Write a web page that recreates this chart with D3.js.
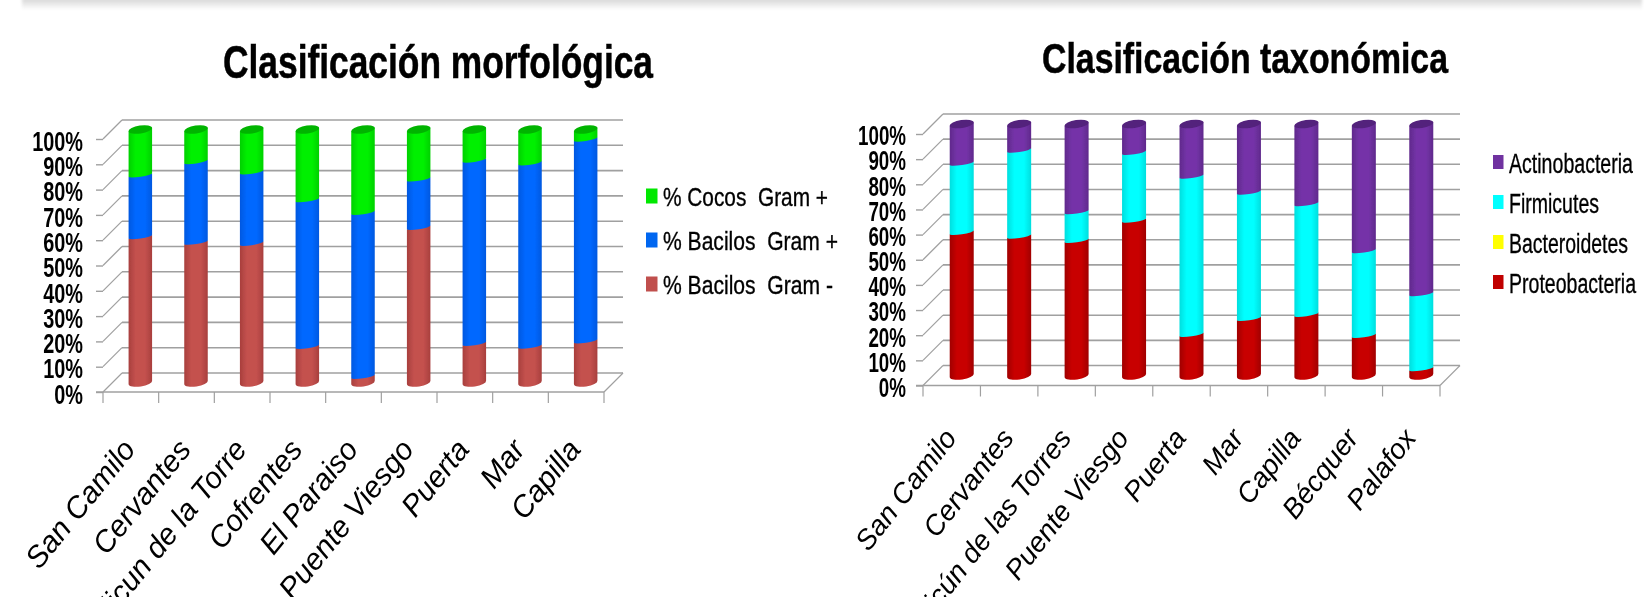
<!DOCTYPE html>
<html>
<head>
<meta charset="utf-8">
<script src="https://cdn.jsdelivr.net/npm/d3@7"></script>
<style>
  html, body { margin: 0; padding: 0; background: #fff; overflow: hidden; }
  svg { display: block; }
  text { font-family: "Liberation Sans", Arial, sans-serif; fill: #000; white-space: pre; }
</style>
</head>
<body>
<div id="chart"></div>
<script>
// Values, in percent, bottom segment first
const yTicks = [0, 10, 20, 30, 40, 50, 60, 70, 80, 90, 100];

const morphCategories = ["San Camilo", "Cervantes", "Alicun de la Torre", "Cofrentes", "El Paraiso", "Puente Viesgo", "Puerta", "Mar", "Capilla"];
const bacilosNeg = [57.6, 55.4, 55, 14.2, 2.4, 61.3, 15.4, 14.3, 16.4];
const bacilosPos = [24.4, 31.9, 28.2, 58, 64.8, 19.1, 72.5, 72.5, 79.8];
const cocosPos = [18, 12.7, 16.8, 27.8, 32.8, 19.6, 12.1, 13.2, 3.8];

const taxCategories = ["San Camilo", "Cervantes", "Alicún de las Torres", "Puente Viesgo", "Puerta", "Mar", "Capilla", "Bécquer", "Palafox"];
const proteobacteria = [56.9, 55.4, 53.7, 61.7, 16.3, 22.7, 24.3, 15.9, 2.7];
const bacteroidetes = [0, 0, 0, 0, 0, 0, 0, 0, 0];
const firmicutes = [27.5, 34.2, 11.4, 27, 62.9, 50.2, 44, 33.7, 29.8];
const actinobacteria = [15.6, 10.4, 34.9, 11.3, 20.8, 27.1, 31.7, 50.4, 67.5];

const svg = d3.select("#chart").append("svg")
    .attr("width", 1652)
    .attr("height", 597);

const defs = svg.append("defs");

// the reference is a soft, scaled up bitmap
defs.append("filter").attr("id", "soft")
    .append("feGaussianBlur").attr("stdDeviation", 0.5);
defs.append("filter").attr("id", "shadowBlur")
    .append("feGaussianBlur").attr("stdDeviation", 1.5);

const shadowGrad = defs.append("linearGradient").attr("id", "topShadow")
    .attr("x1", 0).attr("x2", 0).attr("y1", 0).attr("y2", 1);
shadowGrad.append("stop").attr("offset", 0).attr("stop-color", "#d4d4d4");
shadowGrad.append("stop").attr("offset", 1).attr("stop-color", "#ffffff");

svg.append("rect")
    .attr("x", 22).attr("y", -2).attr("width", 1620).attr("height", 12)
    .attr("fill", "url(#topShadow)")
    .attr("filter", "url(#shadowBlur)");

const root = svg.append("g").attr("filter", "url(#soft)");

// narrow a text to the condensed look of the original
function squeeze(sel, k) {
    sel.each(function () {
        const t = d3.select(this);
        t.attr("textLength", this.getComputedTextLength() * k)
            .attr("lengthAdjust", "spacingAndGlyphs");
    });
}

function cylinderGradient(id, edge, mid) {
    const g = defs.append("linearGradient").attr("id", id);
    g.append("stop").attr("offset", 0).attr("stop-color", edge);
    g.append("stop").attr("offset", 0.3).attr("stop-color", mid);
    g.append("stop").attr("offset", 0.7).attr("stop-color", mid);
    g.append("stop").attr("offset", 1).attr("stop-color", edge);
}

function drawChart(o) {
    const g = root.append("g");
    const x = d3.scaleBand().domain(o.categories).range([o.x0, o.x1]);
    const y = d3.scaleLinear().domain([0, 100]).range([o.y0, o.y100]);
    const d = o.depth;
    const gridColor = "#a0a0a0";

    // back wall grid
    g.append("g").selectAll("line").data(yTicks).join("line")
        .attr("x1", o.x0 + d).attr("x2", o.x1 + d)
        .attr("y1", v => y(v) - d).attr("y2", v => y(v) - d)
        .attr("stroke", gridColor).attr("stroke-width", 1.6);

    // side wall
    g.append("g").selectAll("line").data(yTicks).join("line")
        .attr("x1", o.x0).attr("x2", o.x0 + d)
        .attr("y1", v => y(v)).attr("y2", v => y(v) - d)
        .attr("stroke", gridColor).attr("stroke-width", 1.2);

    // floor
    g.append("line")
        .attr("x1", o.x1).attr("x2", o.x1 + d)
        .attr("y1", y(0)).attr("y2", y(0) - d)
        .attr("stroke", gridColor).attr("stroke-width", 1.2);
    g.append("line")
        .attr("x1", o.x0 - 7).attr("x2", o.x1)
        .attr("y1", y(0)).attr("y2", y(0))
        .attr("stroke", gridColor).attr("stroke-width", 1.6);

    // category ticks sit between the bands
    const edges = o.categories.map(c => x(c)).concat([o.x1]);
    g.append("g").selectAll("line").data(edges).join("line")
        .attr("x1", v => v).attr("x2", v => v)
        .attr("y1", y(0)).attr("y2", y(0) + 11)
        .attr("stroke", gridColor).attr("stroke-width", 1.2);

    // y axis
    const yAxis = g.append("g")
        .attr("transform", `translate(${o.x0},0)`)
        .call(d3.axisLeft(y).tickValues(yTicks).tickSize(7).tickPadding(o.tickPad).tickFormat(v => v + "%"));
    yAxis.select(".domain").remove();
    yAxis.selectAll("line").attr("stroke", gridColor).attr("stroke-width", 1.4);
    yAxis.selectAll("text")
        .attr("dy", "0.4em")
        .style("font-size", o.tickFont + "px")
        .style("font-weight", "bold")
        .call(squeeze, o.tickSqueeze);

    // x axis labels
    const xAxis = g.append("g")
        .attr("transform", `translate(0,${o.y0})`)
        .call(d3.axisBottom(x).tickSize(0).tickFormat(c => c));
    xAxis.select(".domain").remove();
    xAxis.selectAll("text")
        .attr("text-anchor", "end")
        .attr("y", 0).attr("dy", 0)
        .attr("transform", `translate(${o.labelDx},${o.labelDy}) rotate(${o.labelAngle})`)
        .style("font-size", o.labelFont + "px")
        .style("font-style", "italic");

    // stacked cylinders
    const w = o.barWidth, tilt = o.tilt, ry = o.ry;
    const bar = g.append("g");
    const rows = o.categories.map((c, i) => {
        const row = { category: c };
        o.series.forEach(s => { row[s.name] = s.values[i]; });
        return row;
    });
    const stack = d3.stack().keys(o.series.map(s => s.name))(rows);

    function endArc(cx, py) {
        const rx = Math.sqrt(w * w / 4 + tilt * tilt);
        const rot = -Math.atan2(2 * tilt, w) * 180 / Math.PI;
        return [rx, rot, cx - w / 2, py + tilt, cx + w / 2, py - tilt];
    }

    stack.forEach((layer, si) => {
        const s = o.series[si];
        bar.append("g").selectAll("path").data(layer).join("path")
            .attr("fill", `url(#${s.grad})`)
            .attr("d", p => {
                if (p[1] - p[0] <= 0) return null;
                const cx = x(p.data.category) + x.bandwidth() / 2 + d / 2;
                const [rx, rot, lx, ly, rxp, ryp] = endArc(cx, y(p[0]) - d / 2);
                const top = y(p[1]) - d / 2;
                const bulge = p[0] === 0 ? ry : 1.8;
                return `M${lx},${ly}A${rx},${bulge} ${rot} 0 0 ${rxp},${ryp}L${rxp},${top - tilt}L${lx},${top + tilt}Z`;
            });
    });

    // cap of the last segment
    const last = stack[stack.length - 1];
    bar.append("g").selectAll("path").data(last).join("path")
        .attr("fill", o.capColor)
        .attr("d", p => {
            const cx = x(p.data.category) + x.bandwidth() / 2 + d / 2;
            const [rx, rot, lx, ly, rxp, ryp] = endArc(cx, y(p[1]) - d / 2);
            return `M${lx},${ly}A${rx},${ry} ${rot} 0 0 ${rxp},${ryp}A${rx},${ry} ${rot} 0 0 ${lx},${ly}Z`;
        });

    // title
    g.append("text")
        .attr("x", o.titleX).attr("y", o.titleY)
        .attr("textLength", o.titleWidth)
        .attr("lengthAdjust", "spacingAndGlyphs")
        .style("font-size", o.titleFont + "px")
        .style("font-weight", "bold")
        .style("stroke", "#000").style("stroke-width", 0.5)
        .text(o.title);

    // legend
    const leg = g.append("g").selectAll("g").data(o.legend).join("g")
        .attr("transform", l => `translate(${o.legendX},${l.y})`);
    leg.append("rect")
        .attr("x", 0).attr("y", -o.swatch / 2 - 1)
        .attr("width", o.swatchW).attr("height", o.swatch)
        .attr("fill", l => l.color);
    leg.append("text")
        .attr("x", o.legendTextX).attr("dy", "0.36em")
        .attr("textLength", l => l.width)
        .attr("lengthAdjust", "spacingAndGlyphs")
        .style("font-size", o.legendFont + "px")
        .style("stroke", "#000").style("stroke-width", 0.35)
        .text(l => l.label);
}

cylinderGradient("gBacNeg", "#a83f3d", "#c4514e");
cylinderGradient("gBacPos", "#0058e0", "#0068ff");
cylinderGradient("gCocos", "#00d000", "#00f000");
cylinderGradient("gProteo", "#a00000", "#c80000");
cylinderGradient("gBactero", "#dddd00", "#ffff00");
cylinderGradient("gFirmi", "#00dede", "#00ffff");
cylinderGradient("gActino", "#602a8c", "#7433a8");

drawChart({
    categories: morphCategories,
    series: [
        { name: "% Bacilos Gram -", values: bacilosNeg, grad: "gBacNeg" },
        { name: "% Bacilos Gram +", values: bacilosPos, grad: "gBacPos" },
        { name: "% Cocos Gram +", values: cocosPos, grad: "gCocos" }
    ],
    capColor: "#00b400",
    x0: 103, x1: 604, y0: 392, y100: 139, depth: 19,
    barWidth: 23.5, tilt: 1.8, ry: 4,
    tickPad: 13, tickFont: 28, tickSqueeze: 0.71,
    labelDx: 6, labelDy: 58, labelAngle: -51, labelFont: 30,
    title: "Clasificación morfológica",
    titleX: 223, titleY: 78, titleWidth: 430, titleFont: 46,
    legendX: 646, legendTextX: 17, legendFont: 26, swatch: 15, swatchW: 11.5,
    legend: [
        { label: "% Cocos  Gram +", color: "#00e800", y: 197, width: 165 },
        { label: "% Bacilos  Gram +", color: "#0066f0", y: 241, width: 175 },
        { label: "% Bacilos  Gram -", color: "#c0504d", y: 285, width: 170 }
    ]
});

drawChart({
    categories: taxCategories,
    series: [
        { name: "Proteobacteria", values: proteobacteria, grad: "gProteo" },
        { name: "Bacteroidetes", values: bacteroidetes, grad: "gBactero" },
        { name: "Firmicutes", values: firmicutes, grad: "gFirmi" },
        { name: "Actinobacteria", values: actinobacteria, grad: "gActino" }
    ],
    capColor: "#53207c",
    x0: 923, x1: 1440, y0: 385.5, y100: 134, depth: 20,
    barWidth: 24, tilt: 1.8, ry: 4,
    tickPad: 10, tickFont: 27, tickSqueeze: 0.695,
    labelDx: 6, labelDy: 53, labelAngle: -52, labelFont: 28,
    title: "Clasificación taxonómica",
    titleX: 1042, titleY: 73, titleWidth: 406, titleFont: 42,
    legendX: 1493, legendTextX: 16, legendFont: 27, swatch: 14, swatchW: 10.5,
    legend: [
        { label: "Actinobacteria", color: "#7030a0", y: 163, width: 124 },
        { label: "Firmicutes", color: "#00ffff", y: 203, width: 90 },
        { label: "Bacteroidetes", color: "#ffff00", y: 243, width: 119 },
        { label: "Proteobacteria", color: "#c00000", y: 283, width: 127 }
    ]
});
</script>
</body>
</html>
